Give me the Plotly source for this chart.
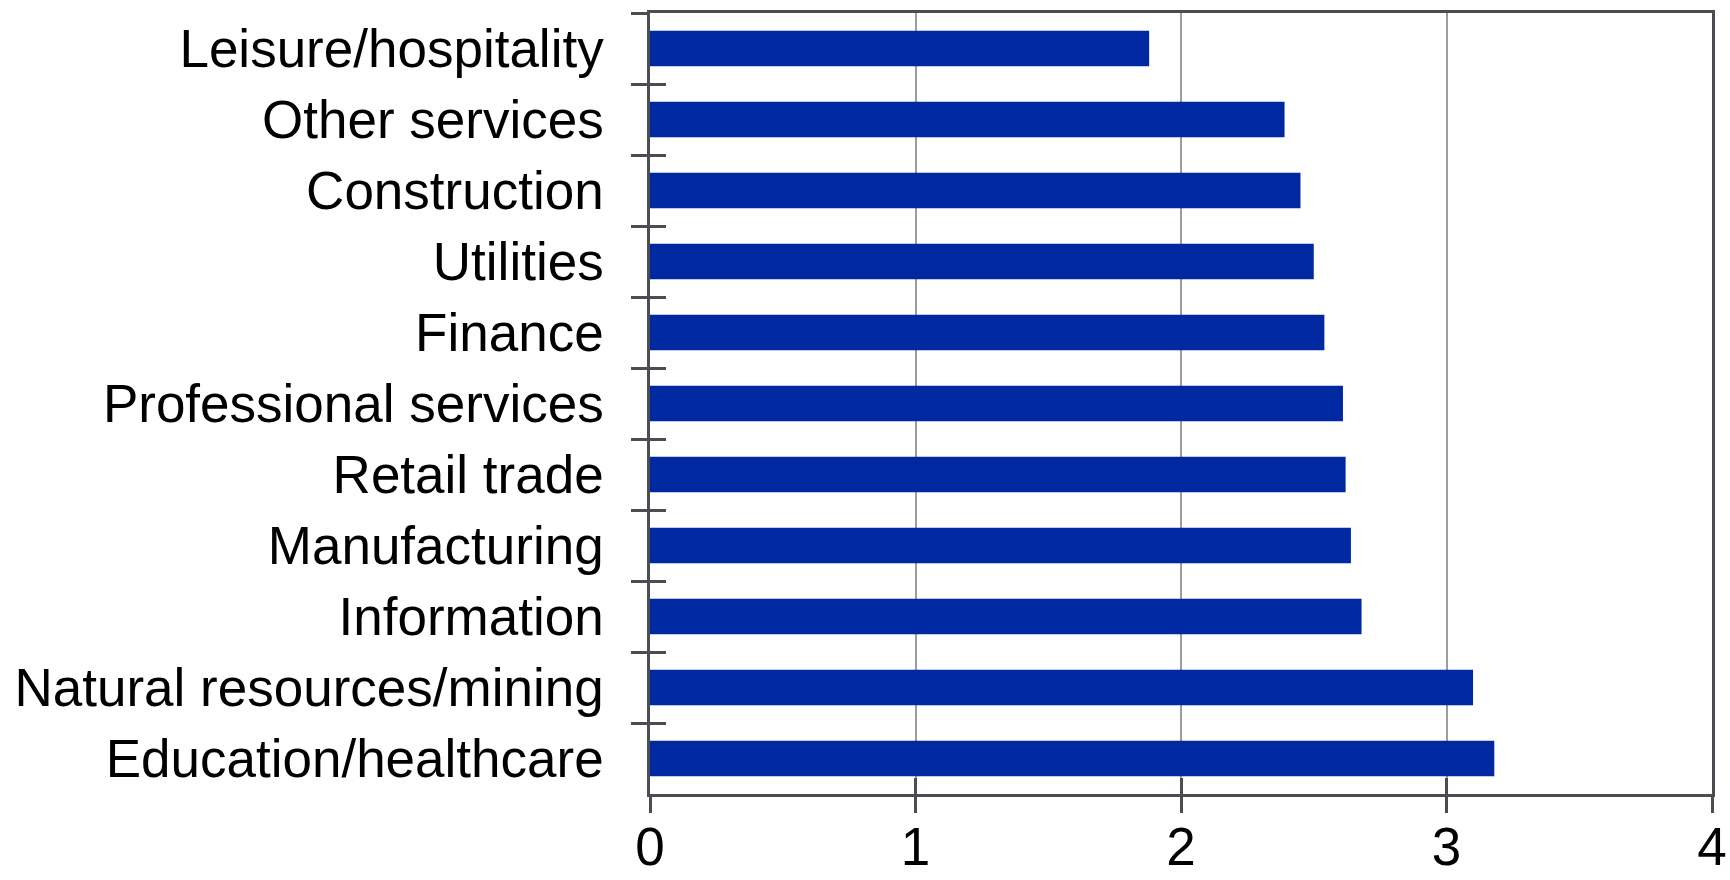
import plotly.graph_objects as go

categories = [
    "Leisure/hospitality",
    "Other services",
    "Construction",
    "Utilities",
    "Finance",
    "Professional services",
    "Retail trade",
    "Manufacturing",
    "Information",
    "Natural resources/mining",
    "Education/healthcare",
]
values = [1.88, 2.39, 2.45, 2.50, 2.54, 2.61, 2.62, 2.64, 2.68, 3.10, 3.18]
x_ticks = [0, 1, 2, 3, 4]

BAR = "#0029A1"
AX = "#4a4e53"
GRID = "#9a9da1"
FONT = "Liberation Sans, Arial, sans-serif"
FS = 53

fig = go.Figure()
fig.add_trace(go.Bar(
    x=values, y=categories, orientation="h",
    marker=dict(color=BAR, line=dict(width=0)),
    xaxis="x", yaxis="y", showlegend=False,
))
# transparent copy on overlay axes so that ticks cross the axis lines
fig.add_trace(go.Bar(
    x=values, y=categories, orientation="h",
    marker=dict(color="rgba(0,0,0,0)", line=dict(width=0)),
    xaxis="x2", yaxis="y2", showlegend=False, hoverinfo="skip",
))

fig.update_layout(
    width=1730, height=880,
    margin=dict(l=650, r=18, t=13, b=86),
    paper_bgcolor="white", plot_bgcolor="white",
    bargap=0.5,
    font=dict(family=FONT, size=FS, color="black"),
    xaxis=dict(
        range=[0, 4], tickvals=x_ticks, ticktext=[str(v) for v in x_ticks],
        showgrid=True, gridcolor=GRID, gridwidth=2,
        showline=True, linecolor=AX, linewidth=2.5, mirror=True,
        ticks="outside", ticklen=16, tickwidth=2.5, tickcolor=AX,
        ticklabelstandoff=-11, zeroline=False, automargin=False,
        tickfont=dict(family=FONT, size=FS, color="black"),
        fixedrange=True,
    ),
    yaxis=dict(
        type="category", categoryarray=categories, autorange="reversed",
        showgrid=False, showline=True, linecolor=AX, linewidth=2.5, mirror=True,
        ticks="outside", ticklen=16, tickwidth=2.5, tickcolor=AX,
        tickson="boundaries", ticklabelstandoff=33, automargin=False,
        tickfont=dict(family=FONT, size=FS, color="black"),
        fixedrange=True,
    ),
    xaxis2=dict(
        overlaying="x", anchor="y", side="bottom",
        range=[0, 4], tickvals=x_ticks, showticklabels=False,
        showgrid=False, showline=False, zeroline=False, automargin=False,
        ticks="inside", ticklen=16, tickwidth=2.5, tickcolor=AX,
        fixedrange=True,
    ),
    yaxis2=dict(
        overlaying="y", anchor="x", side="left",
        type="category", categoryarray=categories, autorange="reversed",
        showticklabels=False, showgrid=False, showline=False, automargin=False,
        ticks="inside", ticklen=16, tickwidth=2.5, tickcolor=AX,
        tickson="boundaries",
        fixedrange=True,
    ),
)

fig.write_html(
    "out.html",
    config={"displayModeBar": False},
    post_script="document.body.style.margin='0';document.body.style.overflow='hidden';",
)
